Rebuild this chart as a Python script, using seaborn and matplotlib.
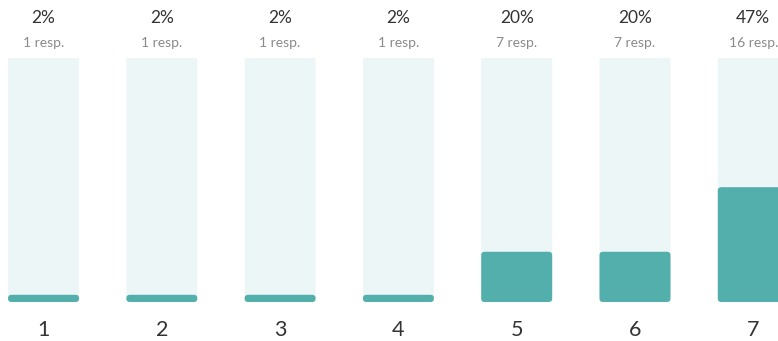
import matplotlib
matplotlib.use("Agg")
import math
import matplotlib.pyplot as plt
from matplotlib.patches import FancyBboxPatch
import seaborn as sns
import pandas as pd

# Survey answers on a 1-7 scale
categories = ["1", "2", "3", "4", "5", "6", "7"]
responses = [1, 1, 1, 1, 7, 7, 16]

total = sum(responses)
shares = [r / total for r in responses]
pct_labels = [f"{math.floor(100 * s)}%" for s in shares]
resp_labels = [f"{r} resp." for r in responses]

df = pd.DataFrame({"answer": categories, "share": shares, "track": [1.0] * len(categories)})

TRACK = "#EDF6F7"
FILL = "#52AFAC"
DARK = "#333333"
GREY = "#8A8A8A"

sns.set_theme(style="white")
plt.rcParams["font.family"] = ["Lato", "DejaVu Sans"]

fig = plt.figure(figsize=(7.78, 3.41), dpi=100)
ax = fig.add_axes([0, 0, 1, 1])

sns.barplot(data=df, x="answer", y="track", color=TRACK, width=0.6, ax=ax, saturation=1)
sns.barplot(data=df, x="answer", y="share", color=FILL, width=0.6, ax=ax, saturation=1)

ax.set_xlim(-0.368, 6.209)
ax.set_ylim(-0.16, 1.238)

# swap the square bars for rounded ones
px_x = 118.3
px_y = 244.0
radius_px = 3.5
r_x = radius_px / px_x
aspect = (radius_px / px_y) / r_x
for patch in list(ax.patches):
    x, y = patch.get_x(), patch.get_y()
    w, h = patch.get_width(), patch.get_height()
    color = patch.get_facecolor()
    is_track = h >= 0.999
    rs = r_x * (0.35 if is_track else 1.0)
    patch.remove()
    ax.add_patch(FancyBboxPatch((x, y), w, h,
                                boxstyle=f"round,pad=0,rounding_size={rs}",
                                mutation_aspect=aspect,
                                facecolor=color, edgecolor="none", zorder=2 if not is_track else 1))

for i, cat in enumerate(categories):
    ax.text(i, 1.164, pct_labels[i], ha="center", va="center", fontsize=12.5, color=DARK)
    ax.text(i, 1.061, resp_labels[i], ha="center", va="center", fontsize=10, color=GREY)
    ax.text(i, -0.115, cat, ha="center", va="center", fontsize=15.5, color=DARK)

ax.set_xticks([])
ax.set_yticks([])
ax.set_xlabel("")
ax.set_ylabel("")
for s in ax.spines.values():
    s.set_visible(False)

fig.savefig("out.png", dpi=100, facecolor="white")
